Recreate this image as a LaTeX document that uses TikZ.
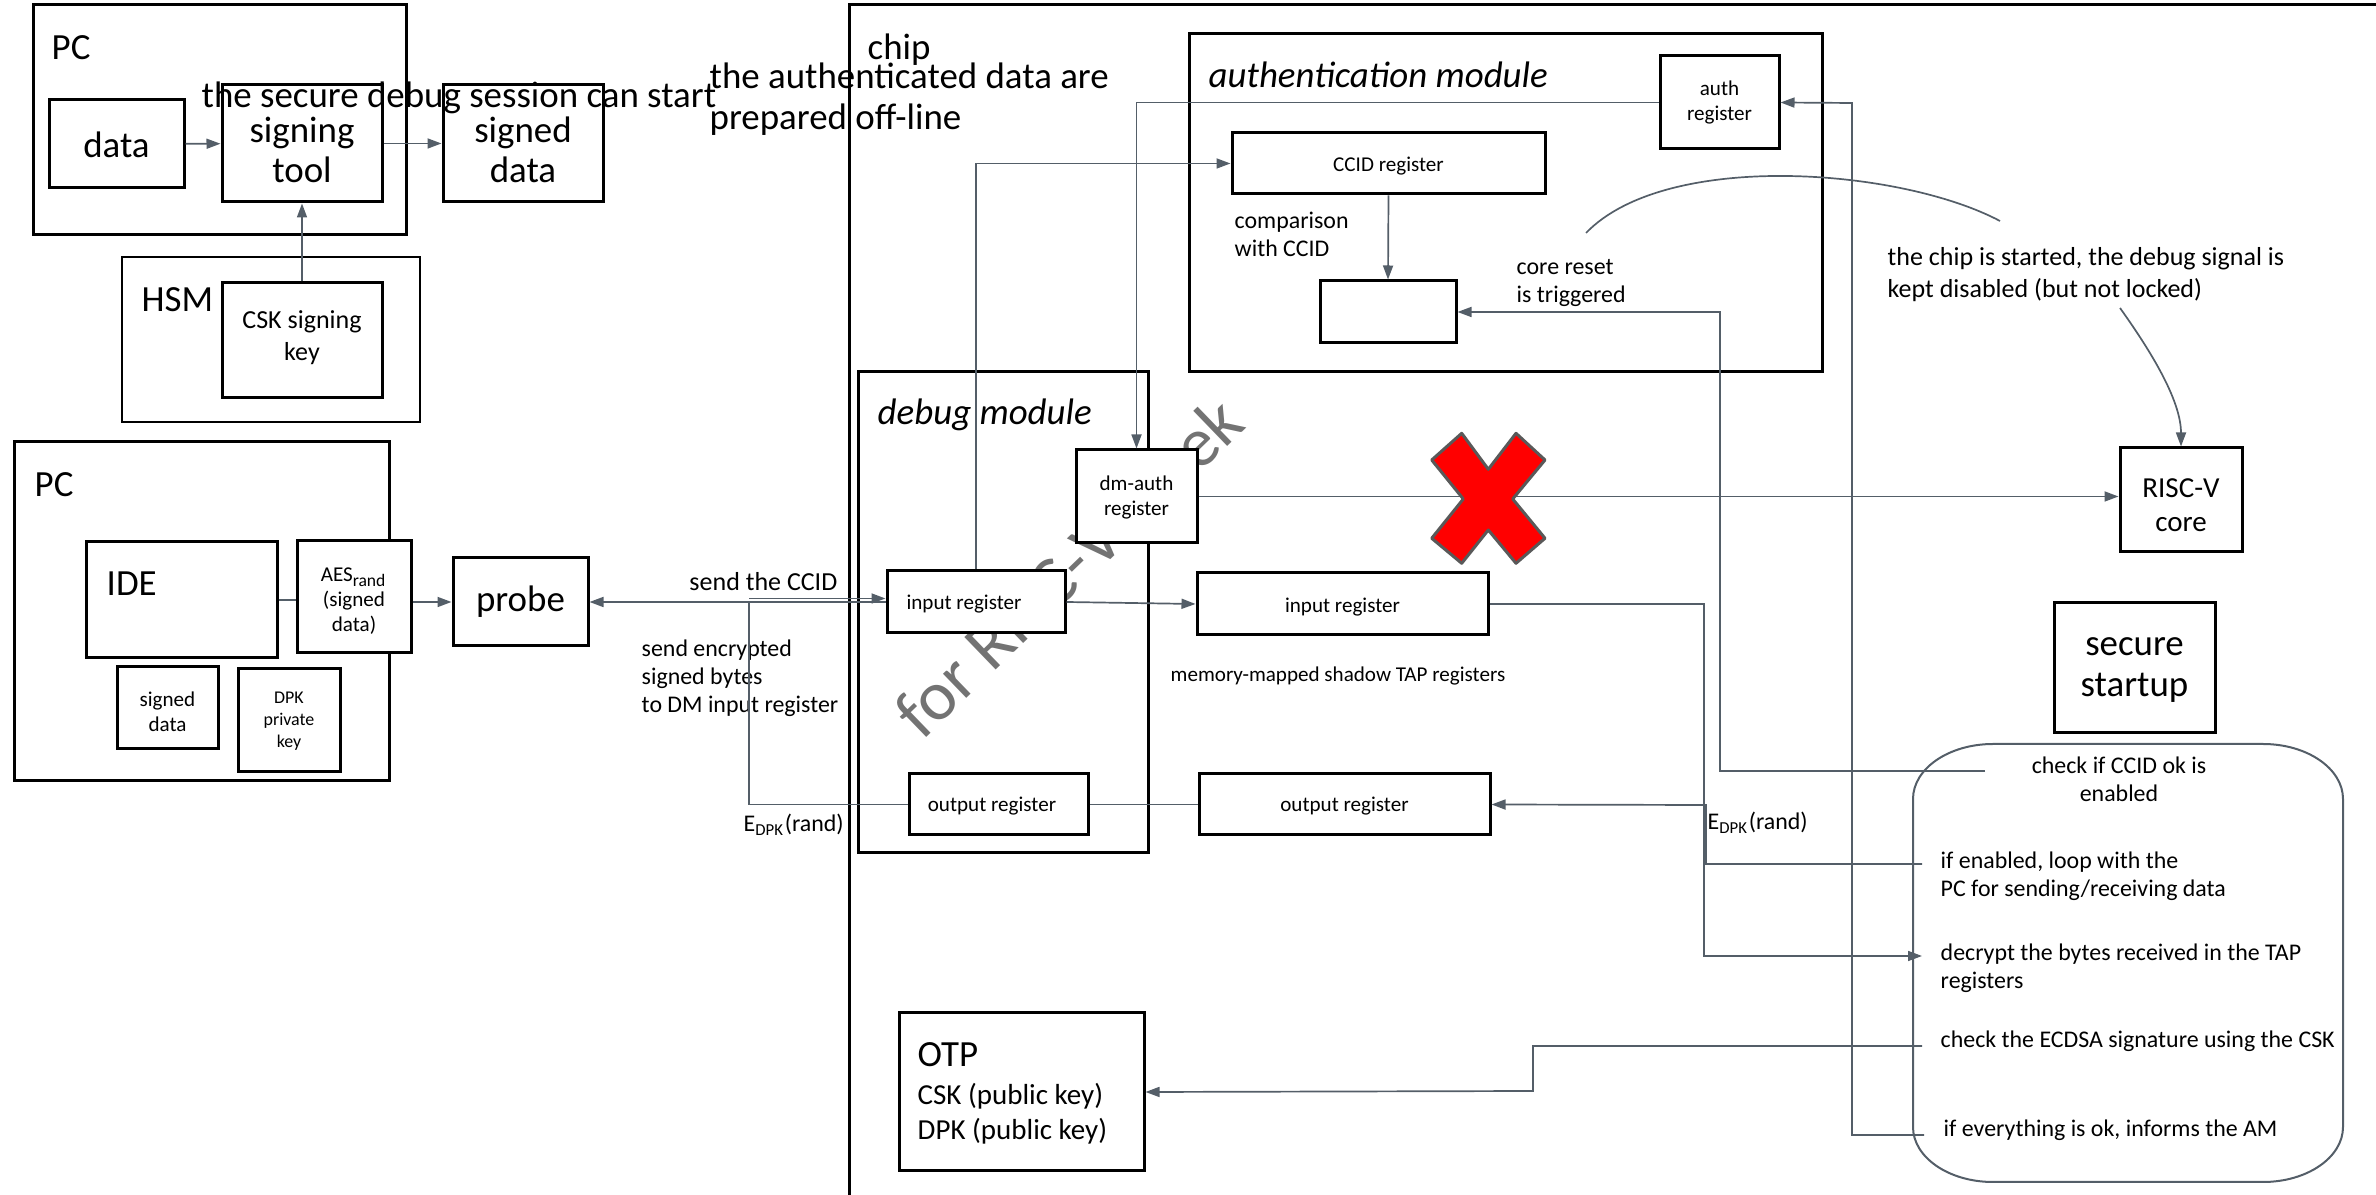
\documentclass[tikz,border=0pt]{standalone}
\usepackage{fontspec}
\setmainfont{Carlito}
\usetikzlibrary{fit,arrows.meta}
\definecolor{lc}{RGB}{84,94,104}
\definecolor{xred}{RGB}{255,0,0}
\newcommand\ftA{\fontsize{10.5pt}{11.5pt}\selectfont}
\newcommand\ftB{\fontsize{8.25pt}{9.6pt}\selectfont}
\newcommand\ftC{\fontsize{7.4pt}{9.1pt}\selectfont}
\newcommand\ftD{\fontsize{6.8pt}{8pt}\selectfont}
\newcommand\ftE{\fontsize{6pt}{7.2pt}\selectfont}
\newcommand\ftF{\fontsize{5.1pt}{6.3pt}\selectfont}
\newcommand\ftW{\fontsize{20pt}{24pt}\selectfont}
\begin{document}
\begin{tikzpicture}[x=0.1mm,y=-0.1mm,
  cont/.style={draw=black,line width=0.3mm,inner sep=0pt},
  box/.style={draw=black,line width=0.3mm,fill=white,inner sep=0pt},
  lab/.style={inner sep=0pt,align=center},
  conn/.style={draw=lc,line width=0.17mm},
  arr/.style={conn,-{Triangle[length=1.4mm,width=1.0mm]}},
  txt/.style={inner sep=0pt,align=left},
]
\useasboundingbox (0,0) rectangle (2376,1195);

% containers
\node[cont,fit={(33,5)(406,235)}] (pc1) {};
\node[cont,line width=0.15mm,fit={(122,257)(420,422)}] (hsm) {};
\node[cont,fit={(14,442)(389,781)}] (pc2) {};
\draw[line width=0.3mm] (2376,5) -- (849,5) -- (849,1195);
\node[cont,fit={(1189,34)(1822,372)}] (am) {};
\node[cont,fit={(858,372)(1148,853)}] (dm) {};
\draw[draw=lc,line width=0.2mm] (1993,744) -- (2263,744)
  arc[start angle=90,end angle=0,x radius=8mm,y radius=5.5mm] -- (2343,1127)
  arc[start angle=0,end angle=-90,x radius=8mm,y radius=5.5mm] -- (1993,1182)
  arc[start angle=-90,end angle=-180,x radius=8mm,y radius=5.5mm] -- (1913,799)
  arc[start angle=180,end angle=90,x radius=8mm,y radius=5.5mm] -- cycle;

% watermark
\node[rotate=44,text=black!55,font=\ftW,inner sep=0pt] (wm) at (1068,567) {for RISC-V week};

% boxes
\node[box,fit={(49,100)(184,188)}] (data) {};
\node[box,fit={(222,85)(382,202)}] (sign) {};
\node[box,fit={(443,85)(603,202)}] (signed) {};
\node[box,fit={(222,283)(382,398)}] (csk) {};
\node[box,fit={(86,542)(277,658)}] (ide) {};
\node[box,fit={(297,541)(411,653)}] (aes) {};
\node[box,fit={(453,558)(588,646)}] (probe) {};
\node[box,fit={(117,667)(218,749)}] (sdat) {};
\node[box,fit={(238,669)(340,772)}] (dpk) {};
\node[box,fit={(1660,56)(1779,149)}] (authreg) {};
\node[box,fit={(1232,133)(1545,194)}] (ccid) {};
\node[box,fit={(1320,281)(1456,343)}] (cmpbox) {};
\node[box,fit={(1076,450)(1197,543)}] (dmauth) {};
\node[box,fit={(887,571)(1065,633)}] (dinreg) {};
\node[box,fit={(909,774)(1088,835)}] (doutreg) {};
\node[box,fit={(1197,573)(1488,635)}] (sinreg) {};
\node[box,fit={(1199,774)(1490,835)}] (soutreg) {};
\node[box,fit={(2120,448)(2242,552)}] (riscv) {};
\node[box,fit={(2054,603)(2215,733)}] (secure) {};
\node[box,fit={(899,1013)(1144,1171)}] (otp) {};

% box labels
\node[lab,font=\ftA] (dataT) at ([yshift=-0.1mm]data.center) {data};
\node[lab,font=\ftA] (signT) at ([yshift=-0.65mm]sign.center) {signing\\tool};
\node[lab,font=\ftA] (signedT) at ([yshift=-0.65mm]signed.center) {signed\\data};
\node[lab,font=\ftC] (cskT) at ([yshift=0.3mm]csk.center) {CSK signing\\key};
\node[lab,font=\ftE] (aesT) at ([yshift=-0.4mm]aes.center) {AES\textsubscript{rand}\\(signed\\data)};
\node[lab,font=\ftA] (probeT) at (probe.center) {probe};
\node[lab,font=\ftE] (sdatT) at ([yshift=-0.4mm]sdat.center) {signed\\data};
\node[lab,font=\ftF] (dpkT) at ([yshift=-0.1mm]dpk.center) {DPK\\private\\key};
\node[lab,font=\ftE] (authregT) at (authreg.center) {auth\\register};
\node[lab,font=\ftE] (ccidT) at ([yshift=-0.3mm]ccid.center) {CCID register};
\node[lab,font=\ftE] (dmauthT) at ([yshift=-0.1mm]dmauth.center) {dm-auth\\register};
\node[lab,font=\ftE] (dinregT) at ([xshift=-1.2mm,yshift=-0.2mm]dinreg.center) {input register};
\node[lab,font=\ftE] (doutregT) at ([xshift=-0.65mm,yshift=-0.2mm]doutreg.center) {output register};
\node[lab,font=\ftE] (sinregT) at ([yshift=-0.3mm]sinreg.center) {input register};
\node[lab,font=\ftE] (soutregT) at ([yshift=-0.2mm]soutreg.center) {output register};
\node[lab,font=\ftB] (riscvT) at ([yshift=-0.5mm]riscv.center) {RISC-V\\core};
\node[lab,font=\ftA] (secureT) at ([yshift=-0.2mm]secure.center) {secure\\startup};

% free texts
\node[txt,font=\ftA,anchor=base west] (pc1l) at (51,60) {PC};
\node[txt,font=\ftA,anchor=base west] (hsml) at (141,312) {HSM};
\node[txt,font=\ftA,anchor=base west] (pc2l) at (34,497) {PC};
\node[txt,font=\ftA,anchor=base west] (idel) at (106,596) {IDE};
\node[txt,font=\ftA,anchor=base west] (chipl) at (867,60) {chip};
\node[txt,font={\ftA\itshape},anchor=base west] (aml) at (1208,88) {authentication module};
\node[txt,font={\ftA\itshape},anchor=base west] (dml) at (877,425) {debug module};
\node[txt,font=\ftA,anchor=west] (offl) at (709,99) {the authenticated data are\\prepared off-line};
\node[txt,font=\ftC,anchor=base east] (sccid) at (838,591) {send the CCID};
\node[txt,font=\ftD,anchor=west] (senc) at (641,678) {send encrypted\\signed bytes\\to DM input register};
\node[txt,font=\ftD,anchor=base west] (edpk1) at (743,832) {E\textsubscript{DPK}(rand)};
\node[txt,font=\ftD,anchor=base west] (edpk2) at (1707,830) {E\textsubscript{DPK}(rand)};
\node[txt,font=\ftD,anchor=west] (cmpt) at (1234,234) {comparison\\with CCID};
\node[txt,font=\ftD,anchor=west] (rst) at (1516,283) {core reset\\is triggered};
\node[txt,font=\ftC,anchor=west] (chipt) at (1887,275) {the chip is started, the debug signal is\\kept disabled (but not locked)};
\node[txt,font=\ftE,anchor=base west] (mmap) at (1170,682) {memory-mapped shadow TAP registers};
\node[txt,font=\ftD,align=center] (t1) at (2119,779) {check if CCID ok is\\enabled};
\node[txt,font=\ftD,anchor=west] (t2) at (1940,876) {if enabled, loop with the\\PC for sending/receiving data};
\node[txt,font=\ftD,anchor=west] (t3) at (1940,968) {decrypt the bytes received in the TAP\\registers};
\node[txt,font=\ftD,anchor=base west] (t4) at (1940,1048) {check the ECDSA signature using the CSK};
\node[txt,font=\ftD,anchor=base west] (t5) at (1943,1137) {if everything is ok, informs the AM};
\node[txt,font=\ftA,anchor=base west] (otpl) at (917,1067) {OTP};
\node[txt,font=\ftB,anchor=base west] (otpc) at (917,1105) {CSK (public key)};
\node[txt,font=\ftB,anchor=base west] (otpd) at (917,1140) {DPK (public key)};

% coordinates
\coordinate (c1) at (1985,771);
\coordinate (c2) at (1922,864);
\coordinate (c3) at (1922,956);
\coordinate (c4) at (1922,1046);
\coordinate (c5) at (1924,1135);
\coordinate (j1) at (749,602);
\coordinate (k1) at (1586,233);
\coordinate (k2) at (2000,221);
\coordinate (k3) at (2120,308);

% connectors
\draw[arr] (data) -- (sign);
\draw[arr] (sign) -- (signed);
\draw[arr] (csk) -- (sign);
\draw[conn] (ide.east) -- (ide.east -| aes.west);
\draw[arr] (probe.west -| aes.east) -- (probe.west);
\draw[arr] (dinreg.west) -- (probe.east);
\draw[arr] ([yshift=0.35mm]j1) -- ([yshift=0.35mm]dinreg.west);
\draw[conn] (doutreg.west) -| (j1);
\draw[arr] (dinreg.east) -- (sinreg.west);
\draw[arr] (dinreg.north) |- (ccid.west);
\draw[arr] (authreg.west) -| (dmauth.north);
\draw[arr] (ccid.south) -- (cmpbox.north);
\draw[arr] (dmauth.east) -- (dmauth.east -| riscv.west);
\draw[arr] (c1) -| (1720,312) -- (cmpbox.east);
\draw[arr] (sinreg.east) -| (1704,956) -- (c3);
\draw[arr] (c2) -| (1706,805) -- (soutreg.east);
\draw[conn] (soutreg.west) -- (doutreg.east);
\draw[arr] (c4) -| (1533,1091) -- (otp.east);
\draw[arr] (c5) -| (1852,103) -- (authreg.east);
\draw[conn] (k1) .. controls (1666,150) and (1900,168) .. (k2);
\draw[arr] (k3) .. controls (2150,350) and (2181,400) .. (riscv.north);

% red cross
\filldraw[fill=xred,draw=black!65,line width=0.3mm,line join=round]
 (1461.7,433.3) -- (1488.3,469.3) -- (1516,433.3) -- (1545,460) -- (1512.7,499)
 -- (1545,538.3) -- (1516,563.3) -- (1488.3,530) -- (1461.7,563.3) -- (1431.7,538.3)
 -- (1463.3,499) -- (1431.7,460) -- cycle;

% overlay text
\node[txt,font=\ftA,anchor=base west] (sess) at (201,108) {the secure debug session can start};
\end{tikzpicture}
\end{document}
